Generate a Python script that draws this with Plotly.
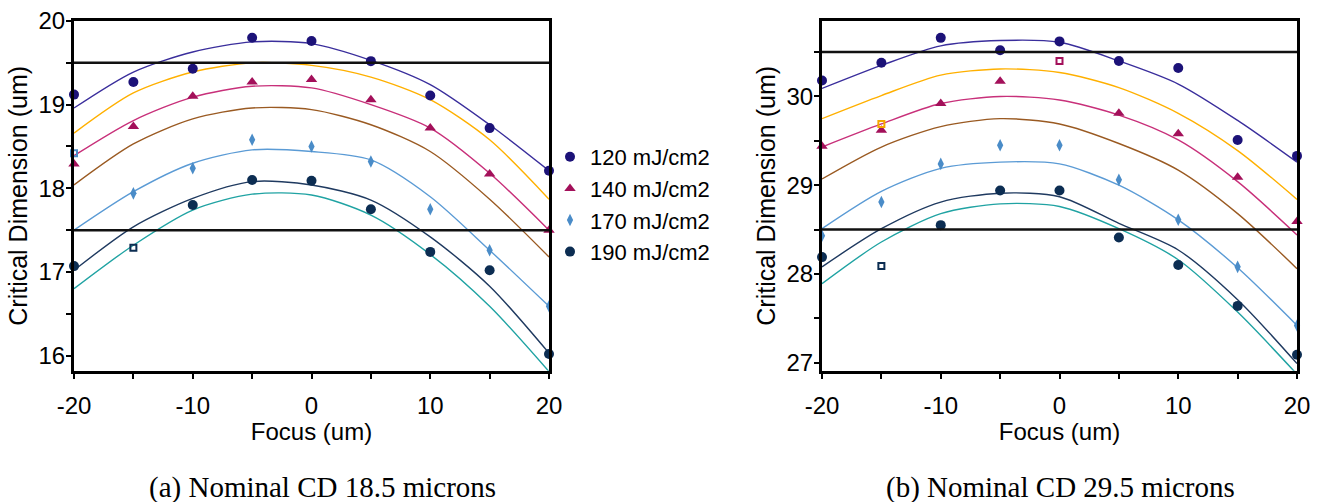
import plotly.graph_objects as go

focus = [-20, -15, -10, -5, 0, 5, 10, 15, 20]
focus_tick_vals = [-20, -10, 0, 10, 20]
focus_tick_text = ["-20", "-10", "0", "10", "20"]
series_names = ["120 mJ/cm2", "140 mJ/cm2", "170 mJ/cm2", "190 mJ/cm2"]

# ---------- Panel (a): nominal CD 18.5 microns ----------
a_120 = [19.12, 19.27, 19.43, 19.80, 19.76, 19.52, 19.11, 18.72, 18.21]
a_140 = [18.29, 18.74, 19.10, 19.27, 19.30, 19.06, 18.72, 18.17, 17.50]
a_170 = [None, 17.94, 18.24, 18.58, 18.50, 18.32, 17.75, 17.26, 16.59]
a_190 = [17.07, None, 17.80, 18.10, 18.09, 17.75, 17.24, 17.02, 16.02]

a_fit_120 = [18.96, 19.39, 19.63, 19.75, 19.73, 19.53, 19.24, 18.76, 18.21]
a_fit_130 = [18.66, 19.14, 19.39, 19.50, 19.47, 19.33, 19.06, 18.58, 17.87]
a_fit_140 = [18.39, 18.81, 19.09, 19.22, 19.20, 19.00, 18.72, 18.18, 17.50]
a_fit_155 = [18.04, 18.53, 18.83, 18.96, 18.94, 18.76, 18.44, 17.87, 17.18]
a_fit_170 = [17.50, 17.96, 18.30, 18.46, 18.44, 18.34, 17.90, 17.26, 16.59]
a_fit_190 = [17.02, 17.54, 17.88, 18.08, 18.04, 17.86, 17.42, 16.83, 16.03]
a_fit_200 = [16.80, 17.32, 17.74, 17.93, 17.92, 17.68, 17.21, 16.59, 15.81]

a_out_x = [-20, -15]
a_out_y = [18.42, 17.29]
a_out_series = ["170", "190"]

a_limits = [17.5, 19.5]

# ---------- Panel (b): nominal CD 29.5 microns ----------
b_120 = [30.18, 30.38, 30.66, 30.52, 30.62, 30.40, 30.32, 29.51, 29.33]
b_140 = [29.44, 29.62, 29.92, 30.17, None, 29.81, 29.58, 29.09, 28.59]
b_170 = [28.43, 28.81, 29.24, 29.45, 29.45, 29.06, 28.61, 28.08, 27.42]
b_190 = [28.19, None, 28.55, 28.94, 28.94, 28.41, 28.10, 27.64, 27.09]

b_fit_120 = [30.09, 30.35, 30.57, 30.63, 30.61, 30.40, 30.14, 29.73, 29.26]
b_fit_130 = [29.75, 30.01, 30.24, 30.31, 30.27, 30.10, 29.81, 29.39, 28.84]
b_fit_140 = [29.43, 29.69, 29.92, 30.00, 29.96, 29.79, 29.51, 29.04, 28.44]
b_fit_155 = [29.07, 29.43, 29.66, 29.75, 29.69, 29.47, 29.17, 28.68, 28.06]
b_fit_170 = [28.51, 28.93, 29.19, 29.26, 29.24, 29.00, 28.61, 28.07, 27.42]
b_fit_190 = [28.08, 28.51, 28.81, 28.91, 28.87, 28.57, 28.27, 27.71, 26.99]
b_fit_200 = [27.89, 28.36, 28.68, 28.79, 28.76, 28.51, 28.16, 27.57, 26.87]

b_out_x = [-15, 0, -15]
b_out_y = [29.69, 30.40, 28.09]
b_out_series = ["130", "140", "190"]

b_limits = [28.5, 30.5]

# ---------- styles ----------
marker_color = {"120": "#1c1278", "140": "#a3105a", "170": "#4a8cc8", "190": "#0c2d52"}
marker_symbol = {"120": "circle", "140": "triangle-up", "170": "diamond-tall", "190": "circle"}
marker_size = {"120": 10, "140": 10, "170": 9, "190": 10}
curve_color = {"120": "#3a2e9c", "130": "#ffb000", "140": "#c8307a", "155": "#9a5a22",
               "170": "#5b9bd5", "190": "#1f3a60", "200": "#20a3a3"}
out_color = {"130": "#f5a800", "140": "#a3105a", "170": "#4a8cc8", "190": "#0c2d52"}

FONT = "Liberation Sans, Arial, sans-serif"
SERIF = "Liberation Serif, Times New Roman, serif"
fig = go.Figure()

def add_panel(xa, ya, fits, pts, out_x, out_y, out_series, show_legend):
    for key, ys in fits:
        fig.add_trace(go.Scatter(x=focus, y=ys, mode="lines", xaxis=xa, yaxis=ya,
                                 line=dict(color=curve_color[key], width=1.4, shape="spline", smoothing=0.8),
                                 showlegend=False, hoverinfo="skip"))
    for (key, ys), name in zip(pts, series_names):
        fig.add_trace(go.Scatter(x=focus, y=ys, mode="markers", xaxis=xa, yaxis=ya, name=name,
                                 marker=dict(color=marker_color[key], symbol=marker_symbol[key],
                                             size=marker_size[key], line=dict(width=0)),
                                 cliponaxis=False, showlegend=show_legend))
    fig.add_trace(go.Scatter(x=out_x, y=out_y, mode="markers", xaxis=xa, yaxis=ya,
                             marker=dict(symbol="square-open", size=6,
                                         color=[out_color[s] for s in out_series],
                                         line=dict(width=2)),
                             cliponaxis=False, showlegend=False))

add_panel("x", "y",
          [("120", a_fit_120), ("130", a_fit_130), ("140", a_fit_140), ("155", a_fit_155),
           ("170", a_fit_170), ("190", a_fit_190), ("200", a_fit_200)],
          [("120", a_120), ("140", a_140), ("170", a_170), ("190", a_190)],
          a_out_x, a_out_y, a_out_series, True)
add_panel("x2", "y2",
          [("120", b_fit_120), ("130", b_fit_130), ("140", b_fit_140), ("155", b_fit_155),
           ("170", b_fit_170), ("190", b_fit_190), ("200", b_fit_200)],
          [("120", b_120), ("140", b_140), ("170", b_170), ("190", b_190)],
          b_out_x, b_out_y, b_out_series, False)

for lim in a_limits:
    fig.add_shape(type="line", xref="x domain", yref="y", x0=0, x1=1, y0=lim, y1=lim,
                  line=dict(color="#111111", width=2.5))
for lim in b_limits:
    fig.add_shape(type="line", xref="x2 domain", yref="y2", x0=0, x1=1, y0=lim, y1=lim,
                  line=dict(color="#111111", width=2.5))

W, H = 1328, 502
axis_common = dict(showline=True, linecolor="black", linewidth=3, mirror=True,
                   ticks="outside", ticklen=5, tickwidth=2, tickcolor="black",
                   showgrid=False, zeroline=False, automargin=False,
                   tickfont=dict(family=FONT, size=24, color="black"))
xcommon = dict(axis_common, range=[-20, 20], tickvals=focus_tick_vals, ticktext=focus_tick_text,
               minor=dict(dtick=5, ticks="outside", ticklen=5, tickwidth=2, tickcolor="black"),
               ticklabelstandoff=6,
               title=dict(text="Focus (um)", font=dict(family=FONT, size=24, color="black"), standoff=0))
ycommon = dict(axis_common, dtick=1, ticklabelstandoff=-4,
               minor=dict(dtick=0.5, ticks="outside", ticklen=5, tickwidth=2, tickcolor="black"),
               title=dict(text="Critical Dimension (um)", font=dict(family=FONT, size=25, color="black"),
                          standoff=4))
ydom = [1 - 370.7 / H, 1 - 21 / H]

fig.update_layout(
    width=W, height=H, margin=dict(l=0, r=0, t=0, b=0, autoexpand=False),
    paper_bgcolor="white", plot_bgcolor="white",
    xaxis=dict(xcommon, domain=[74 / W, 549 / W], anchor="y"),
    yaxis=dict(ycommon, domain=ydom, range=[15.82, 20], anchor="x"),
    xaxis2=dict(xcommon, domain=[822 / W, 1297 / W], anchor="y2"),
    yaxis2=dict(ycommon, domain=ydom, range=[26.91, 30.85], anchor="x2"),
    legend=dict(x=550 / W, y=1 - 136 / H, xanchor="left", yanchor="top",
                font=dict(family=FONT, size=22, color="black"),
                bgcolor="rgba(0,0,0,0)"),
    showlegend=True,
)

fig.add_annotation(text="(a) Nominal CD 18.5 microns", xref="paper", yref="paper",
                   x=322 / W, y=1 - 487 / H, showarrow=False, xanchor="center", yanchor="middle",
                   font=dict(family=SERIF, size=29, color="black"))
fig.add_annotation(text="(b) Nominal CD 29.5 microns", xref="paper", yref="paper",
                   x=1060 / W, y=1 - 487 / H, showarrow=False, xanchor="center", yanchor="middle",
                   font=dict(family=SERIF, size=29, color="black"))

fig.write_html("out.html", config={"displayModeBar": False},
               post_script="document.body.style.margin='0';document.body.style.overflow='hidden';")
